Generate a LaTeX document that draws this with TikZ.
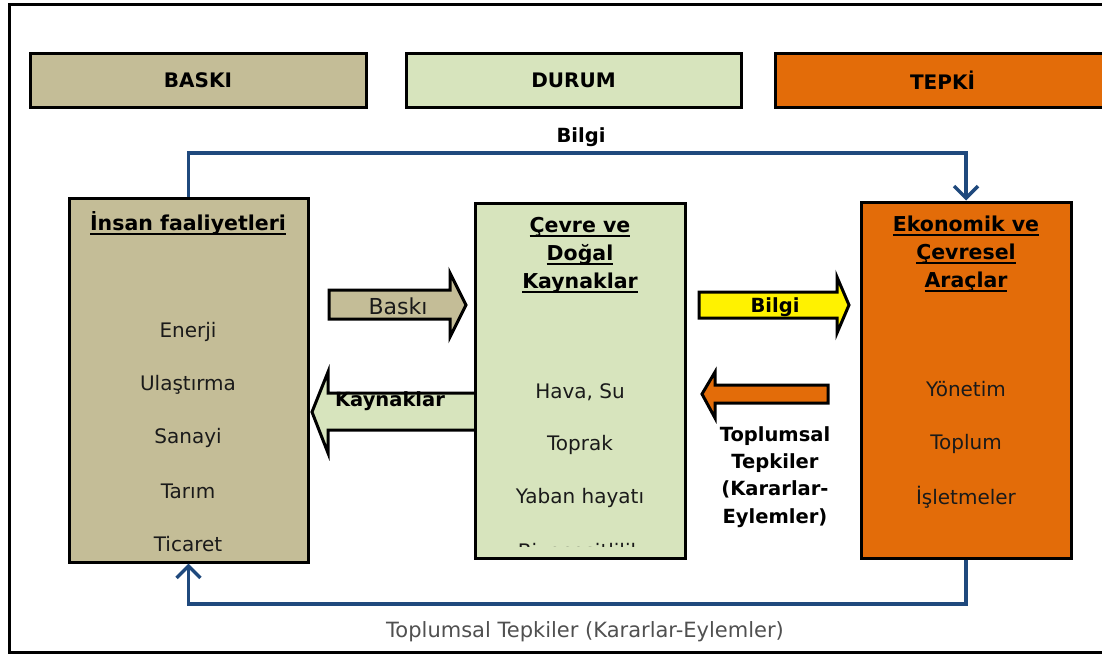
\documentclass[tikz,border=0pt]{standalone}
\usepackage{fontspec}
\setmainfont{DejaVu Sans}
\usetikzlibrary{arrows.meta}
\definecolor{tanc}{HTML}{C4BD97}
\definecolor{palec}{HTML}{D7E4BD}
\definecolor{orngc}{HTML}{E36C09}
\definecolor{navyc}{HTML}{1F497D}
\definecolor{txtc}{HTML}{1A1A1A}
\definecolor{grayc}{HTML}{505050}
\newcommand\myul[1]{\leavevmode\setbox0\hbox{#1}\rlap{\rule[-4.5pt]{\wd0}{1.8pt}}\box0}
\begin{document}
\begin{tikzpicture}[x=1pt,y=-1pt,
  hdr/.style={draw=black, line width=3pt, inner sep=0, font=\fontsize{20}{22}\selectfont\bfseries},
  bigbox/.style={draw=black, line width=3pt, inner sep=0},
  item/.style={font=\fontsize{20}{22}\selectfont, text=txtc, inner sep=0},
  ttl/.style={font=\fontsize{20.5}{28}\selectfont\bfseries, align=center, inner sep=0},
  blab/.style={font=\fontsize{19.5}{27.3}\selectfont\bfseries, align=center, inner sep=0},
  bold/.style={font=\fontsize{19.5}{22}\selectfont\bfseries, inner sep=0},
  barrow/.style={draw=black, line width=3pt, line join=miter},
  conn/.style={draw=navyc, line width=3.5pt, -{Straight Barb[length=12pt,width=24pt,line width=3.5pt]}}
]
\clip (0,0) rectangle (1102,657);
\fill[white] (0,0) rectangle (1102,657);
\draw[line width=3pt] (9,4) rectangle (1120,652);

% header boxes
\node[hdr, fill=tanc, minimum width=336pt, minimum height=54pt] (baski) at (198,80) {BASKI};
\node[hdr, fill=palec, minimum width=335pt, minimum height=54pt] (durum) at (573.5,80) {DURUM};
\node[hdr, fill=orngc, minimum width=335pt, minimum height=54pt] (tepki) at (942.5,80) {TEPKİ};

% block arrows (drawn before boxes)
\draw[barrow, fill=tanc] (329,290) -- (450,290) -- (450,273) -- (466,305) -- (450,337) -- (450,319) -- (329,319) -- cycle;
\draw[barrow, fill=palec] (476,393) -- (328,393) -- (328,372) -- (312,412) -- (328,453) -- (328,430) -- (476,430) -- cycle;
\draw[barrow, fill=yellow] (699,292) -- (837,292) -- (837,277) -- (849,305) -- (837,333) -- (837,318) -- (699,318) -- cycle;
\draw[barrow, fill=orngc] (828,385) -- (715,385) -- (715,372) -- (702,394) -- (715,418) -- (715,403) -- (828,403) -- cycle;

% main boxes
\node[bigbox, fill=tanc, minimum width=239pt, minimum height=364pt] (lbox) at (188.5,380) {};
\node[bigbox, fill=palec, minimum width=210pt, minimum height=355pt] (mbox) at (580,380.5) {};
\node[bigbox, fill=orngc, minimum width=210pt, minimum height=356pt] (rbox) at (966,380) {};

% arrow labels
\node[font=\fontsize{22}{24}\selectfont, text=txtc, inner sep=0] (lbaski) at (398,306) {Baskı};
\node[bold] (lkayn) at (390,401) {Kaynaklar};
\node[bold] (lbilgi) at (775,307) {Bilgi};
\node[blab] (ltop) at (775,477) {Toplumsal\\Tepkiler\\(Kararlar-\\Eylemler)};

% left box content
\node[ttl] (ltitle) at (188,223) {\myul{İnsan faaliyetleri}};
\node[item] (l1) at (188,332) {Enerji};
\node[item] (l2) at (188,385) {Ulaştırma};
\node[item] (l3) at (188,438) {Sanayi};
\node[item] (l4) at (188,491) {Tarım};
\begin{scope}
\clip (71,200) rectangle (306,551);
\node[item] (l5) at (188,544) {Ticaret};
\end{scope}

% middle box content
\node[ttl] (mtitle) at (580,255) {\myul{Çevre ve}\\\myul{Doğal}\\\myul{Kaynaklar}};
\node[item] (m1) at (580,392) {Hava, Su};
\node[item] (m2) at (580,445) {Toprak};
\node[item] (m3) at (580,498) {Yaban hayatı};
\begin{scope}
\clip (477,205) rectangle (683,546);
\node[item] (m4) at (580,553) {Biyoçeşitlilik};
\end{scope}

% right box content
\node[ttl] (rtitle) at (966,254) {\myul{Ekonomik ve}\\\myul{Çevresel}\\\myul{Araçlar}};
\node[item] (r1) at (966,389) {Yönetim};
\node[item] (r2) at (966,444) {Toplum};
\node[item] (r3) at (966,497) {İşletmeler};

% feedback connectors
\draw[conn] (lbox.north) -- (lbox.north |- 0,153) -| (rbox.north);
\draw[conn] (rbox.south) -- (rbox.south |- 0,604) -| (lbox.south);
\node[bold] (bilgitop) at (581,137) {Bilgi};
\node[font=\fontsize{21}{23}\selectfont, text=grayc, inner sep=0] (bottomlab) at (585,632) {Toplumsal Tepkiler (Kararlar-Eylemler)};
\end{tikzpicture}
\end{document}
